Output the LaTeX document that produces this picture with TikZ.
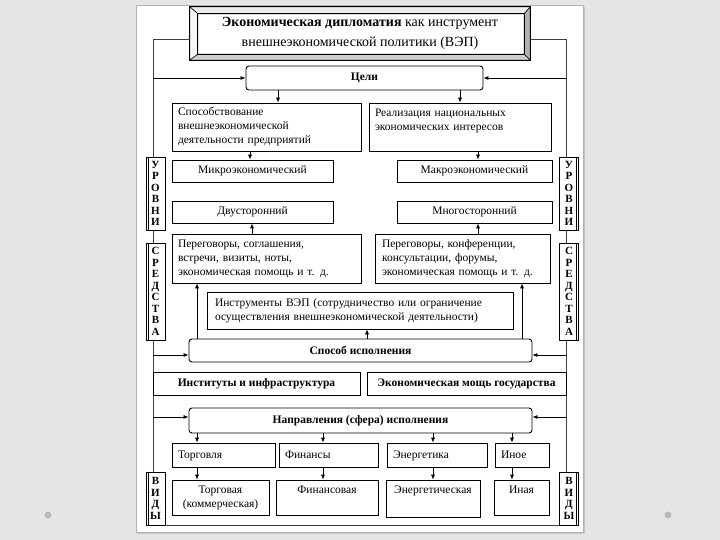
\documentclass[tikz,border=0pt]{standalone}
\usepackage{fontspec}
\setmainfont{Liberation Serif}
\usetikzlibrary{arrows.meta,calc}

\tikzset{
  box/.style={draw, fill=white, line width=0.7pt, inner sep=0pt,
    font=\fontsize{11.5}{14}\selectfont},
  leftbox/.style={box, align=left, inner xsep=6pt},
  rowbox/.style={leftbox, text height=8.5pt, text depth=2.5pt, minimum height=24pt},
  headbox/.style={box, rounded corners=3pt, line width=0.9pt,
    font=\fontsize{11.5}{14}\selectfont\bfseries},
  boldbox/.style={box, font=\fontsize{11.5}{14}\selectfont\bfseries},
  sidebox/.style={box, align=center, minimum width=19pt,
    font=\fontsize{11}{11.5}\selectfont\bfseries},
  toplabel/.style={label={[anchor=north, yshift=-3pt,
    font=\fontsize{11.5}{14}\selectfont]north:#1}},
  arr/.style={-{Latex[length=5pt,width=4pt]}, line width=0.7pt},
  frame/.style={line width=0.8pt, black!75},
}

\begin{document}
\begin{tikzpicture}[x=1pt, y=-1pt]
  \useasboundingbox (0,0) rectangle (720,540);
  % slide
  \shade[left color=gray!20, middle color=gray!9, right color=gray!20] (0,0) rectangle (720,540);
  \fill[gray!45] (138,7) rectangle (585,534);
  \draw[gray!60, fill=white] (136,5) rectangle (583,532);
  \fill[gray!55] (48,515) circle (3.5);
  \fill[gray!55] (668,515) circle (3.5);

  \coordinate (L) at (153,0);
  \coordinate (R) at (566,0);

  % title
  \node[font=\fontsize{14}{20}\selectfont, align=center, inner sep=0pt,
    minimum width=340pt, minimum height=53pt] (title) at (360,33.5)
    {\textbf{Экономическая дипломатия} как инструмент\\внешнеэкономической политики (ВЭП)};
  \coordinate (ti1) at ([shift={(8,7)}]title.north west);
  \coordinate (ti2) at ([shift={(-6,7)}]title.north east);
  \coordinate (ti3) at ([shift={(-6,-6)}]title.south east);
  \coordinate (ti4) at ([shift={(8,-6)}]title.south west);
  \filldraw[fill=gray!15, line width=0.5pt] (title.north west) -- (title.north east) -- (ti2) -- (ti1) -- cycle;
  \filldraw[fill=gray!6, line width=0.5pt] (title.north west) -- (ti1) -- (ti4) -- (title.south west) -- cycle;
  \filldraw[fill=gray!60, line width=0.5pt] (title.north east) -- (title.south east) -- (ti3) -- (ti2) -- cycle;
  \filldraw[fill=gray!40, line width=0.5pt] (title.south west) -- (ti4) -- (ti3) -- (title.south east) -- cycle;
  \draw[line width=0.7pt] (title.north west) rectangle (title.south east);
  \draw[line width=0.7pt] (ti1) rectangle (ti3);

  % side labels
  \node[sidebox, minimum height=73pt] (lvlL) at (155.5,193.5) {У\\Р\\О\\В\\Н\\И};
  \node[sidebox, minimum height=97pt] (sredL) at (155.5,291.5) {С\\Р\\Е\\Д\\С\\Т\\В\\А};
  \node[sidebox, minimum height=53pt] (vidL) at (155.5,498.5) {В\\И\\Д\\Ы};
  \node[sidebox, minimum height=73pt] (lvlR) at (569,193.5) {У\\Р\\О\\В\\Н\\И};
  \node[sidebox, minimum height=97pt] (sredR) at (569,291.5) {С\\Р\\Е\\Д\\С\\Т\\В\\А};
  \node[sidebox, minimum height=53pt] (vidR) at (569,498.5) {В\\И\\Д\\Ы};
  \foreach \n in {lvlL,sredL,vidL}
    \draw[line width=0.7pt] ([xshift=2.5pt]\n.north west) -- ([xshift=2.5pt]\n.south west);
  \foreach \n in {lvlR,sredR,vidR}
    \draw[line width=0.7pt] ([xshift=-2.5pt]\n.north east) -- ([xshift=-2.5pt]\n.south east);

  % outer frame
  \draw[frame] (title.west |- 0,39) -- (L |- 0,39) -- (L |- lvlL.north);
  \draw[frame] (L |- lvlL.south) -- (L |- sredL.north);
  \draw[frame] (L |- sredL.south) -- (L |- vidL.north);
  \draw[frame] (title.east |- 0,39) -- (R |- 0,39) -- (R |- lvlR.north);
  \draw[frame] (R |- lvlR.south) -- (R |- sredR.north);
  \draw[frame] (R |- sredR.south) -- (R |- vidR.north);
  \draw[frame] (vidL.south east) -- (vidR.south west);

  % goals
  \node[headbox, minimum width=237pt, minimum height=24pt] (cel) at (364.5,78) {Цели};
  \node[leftbox, text width=177pt, minimum height=48pt] (goal1) at (266.5,127)
    {Способствование\\внешнеэкономической\\деятельности предприятий};
  \node[leftbox, text width=170pt, minimum height=48pt] (goal2) at (460,127)
    {Реализация национальных\\экономических интересов\\\mbox{}};

  % levels
  \node[box, minimum width=161pt, minimum height=22pt] (mikro) at (252.5,171) {Микроэкономический};
  \node[box, minimum width=155pt, minimum height=22pt] (makro) at (474.5,171) {Макроэкономический};
  \node[box, minimum width=161pt, minimum height=22pt] (dvu) at (252.5,212) {Двусторонний};
  \node[box, minimum width=155pt, minimum height=22pt] (mnogo) at (474.5,212) {Многосторонний};

  % means
  \node[leftbox, text width=177pt, minimum height=49pt] (means1) at (266.5,258.5)
    {Переговоры, соглашения,\\встречи, визиты, ноты,\\экономическая помощь и т. д.};
  \node[leftbox, inner xsep=7pt, text width=161pt, minimum height=49pt] (means2) at (462.5,258.5)
    {Переговоры, конференции,\\консультации, форумы,\\экономическая помощь и т. д.};
  \node[leftbox, inner xsep=8pt, text width=290pt, minimum height=37pt] (instr) at (360,310.5)
    {Инструменты ВЭП (сотрудничество или ограничение\\осуществления внешнеэкономической деятельности)};

  % execution
  \node[headbox, minimum width=343pt, minimum height=23pt] (sposob) at (360.5,350.5) {Способ исполнения};
  \node[boldbox, minimum width=207pt, minimum height=23pt] (inst) at (256.5,383.5) {Институты и инфраструктура};
  \node[boldbox, minimum width=199pt, minimum height=23pt] (moshch) at (466.5,383.5) {Экономическая мощь государства};
  \node[headbox, minimum width=343pt, minimum height=25pt] (napr) at (360.5,420.5) {Направления (сфера) исполнения};

  % spheres
  \node[rowbox, text width=91pt] (torg) at (223.5,455) {Торговля};
  \node[rowbox, text width=87pt] (fin) at (328.5,455) {Финансы};
  \node[rowbox, text width=88pt] (energ) at (437,455) {Энергетика};
  \node[rowbox, text width=42pt] (inoe) at (522,455) {Иное};

  % kinds
  \node[box, align=center, minimum width=97pt, minimum height=35pt] (torgv) at (220.5,497.5) {Торговая\\(коммерческая)};
  \node[box, minimum width=102pt, minimum height=35pt, toplabel=Финансовая] (finv) at (327,497.5) {};
  \node[box, minimum width=94pt, minimum height=37pt, toplabel=Энергетическая] (energv) at (433,498.5) {};
  \node[box, minimum width=55pt, minimum height=35pt, toplabel=Иная] (inav) at (521.5,497.5) {};

  % arrows from the frame
  \draw[arr] (L |- cel.west) -- (cel.west);
  \draw[arr] (R |- cel.east) -- (cel.east);
  \draw[arr] (L |- 0,355) -- (sposob.west |- 0,355);
  \draw[arr] (R |- 0,355) -- (sposob.east |- 0,355);
  \draw[arr] (L |- 0,417) -- (napr.west |- 0,417);
  \draw[arr] (R |- 0,417) -- (napr.east |- 0,417);

  % arrows between boxes
  \draw[arr] (278,0 |- cel.south) -- (278,0 |- goal1.north);
  \draw[arr] (460,0 |- cel.south) -- (460,0 |- goal2.north);
  \draw[arr] (250,0 |- goal1.south) -- (250,0 |- mikro.north);
  \draw[arr] (478,0 |- goal2.south) -- (478,0 |- makro.north);
  \draw[arr] (252,0 |- means1.north) -- (252,0 |- dvu.south);
  \draw[arr] (478,0 |- means2.north) -- (478,0 |- mnogo.south);
  \draw[arr] (197,0 |- sposob.north) -- (197,0 |- means1.south);
  \draw[arr] (522,0 |- sposob.north) -- (522,0 |- means2.south);
  \draw[arr] (367,0 |- sposob.north) -- (367,0 |- instr.south);
  \foreach \x/\a/\b in {197/torg/torgv, 323/fin/finv, 433/energ/energv, 512/inoe/inav}
  {
    \draw[arr] (\x,0 |- napr.south) -- (\x,0 |- \a.north);
    \draw[arr] (\x,0 |- \a.south) -- (\x,0 |- \b.north);
  }
\end{tikzpicture}
\end{document}
